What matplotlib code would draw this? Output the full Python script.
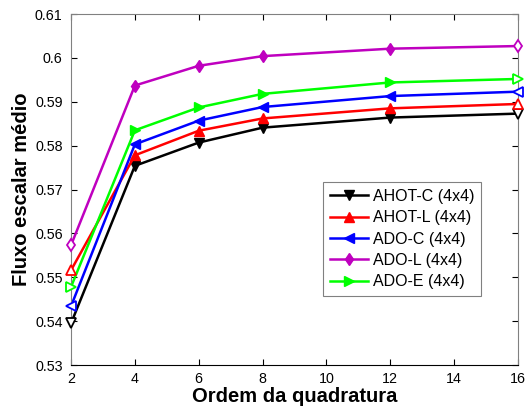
import numpy as np
import matplotlib
matplotlib.use('Agg')
import matplotlib.pyplot as plt

plt.rcParams['font.family'] = ['Liberation Sans', 'DejaVu Sans']

ordem = [2, 4, 6, 8, 12, 16]
ahot_c = [0.5395, 0.5754, 0.5807, 0.5841, 0.5864, 0.5873]
ahot_l = [0.5516, 0.5778, 0.5834, 0.5862, 0.5885, 0.5895]
ado_c = [0.5434, 0.5803, 0.5857, 0.5888, 0.5913, 0.5923]
ado_l = [0.5573, 0.5937, 0.5982, 0.6004, 0.6021, 0.6027]
ado_e = [0.5478, 0.5835, 0.5887, 0.5918, 0.5944, 0.5952]

series = [
	('AHOT-C (4x4)', ahot_c, 'black', 'v'),
	('AHOT-L (4x4)', ahot_l, 'red', '^'),
	('ADO-C (4x4)', ado_c, 'blue', '<'),
	('ADO-L (4x4)', ado_l, '#bf00bf', 'd'),
	('ADO-E (4x4)', ado_e, '#00ff00', '>'),
]

fig = plt.figure(figsize = (5.32, 4.12), dpi = 100)
ax = fig.add_axes([0.1335, 0.114, 0.8402, 0.852])

for name, y, c, m in series:
	ax.plot(ordem, y, color = c, lw = 1.8, marker = m, ms = 6.5,
		markevery = [1, 2, 3, 4], label = name)
	# pontos das extremidades aparecem vazados
	ax.plot([ordem[0], ordem[-1]], [y[0], y[-1]], ls = 'none', marker = m, ms = 6.5,
		mfc = 'white', mec = c, mew = 1.3, clip_on = False, zorder = 3)

ax.set_xlim(2, 16)
ax.set_ylim(0.53, 0.61)
ax.set_xticks([2, 4, 6, 8, 10, 12, 14, 16])
ax.set_yticks(np.arange(0.53, 0.6101, 0.01))
ax.set_yticklabels(['0.53', '0.54', '0.55', '0.56', '0.57', '0.58', '0.59', '0.6', '0.61'])
ax.tick_params(direction = 'in', top = True, right = True, length = 4, labelsize = 10.3, width = 0.8)
ax.tick_params(axis = 'y', pad = 6)
ax.tick_params(axis = 'x', pad = 5)
for s in ['left', 'top', 'right']:
	ax.spines[s].set_color('#808080')
ax.spines['bottom'].set_color('black')

ax.set_xlabel('Ordem da quadratura', fontsize = 14.5, fontweight = 'bold', labelpad = 1)
ax.set_ylabel('Fluxo escalar médio', fontsize = 14.5, fontweight = 'bold', labelpad = 3)

leg = ax.legend(loc = 'upper left', bbox_to_anchor = (0.564, 0.52), fontsize = 11.5,
	fancybox = False, framealpha = 1, edgecolor = '#808080', handlelength = 2.4,
	handletextpad = 0.3, borderpad = 0.4, labelspacing = 0.4, borderaxespad = 0)
leg.get_frame().set_linewidth(0.8)

fig.savefig('out.png', dpi = 100)
